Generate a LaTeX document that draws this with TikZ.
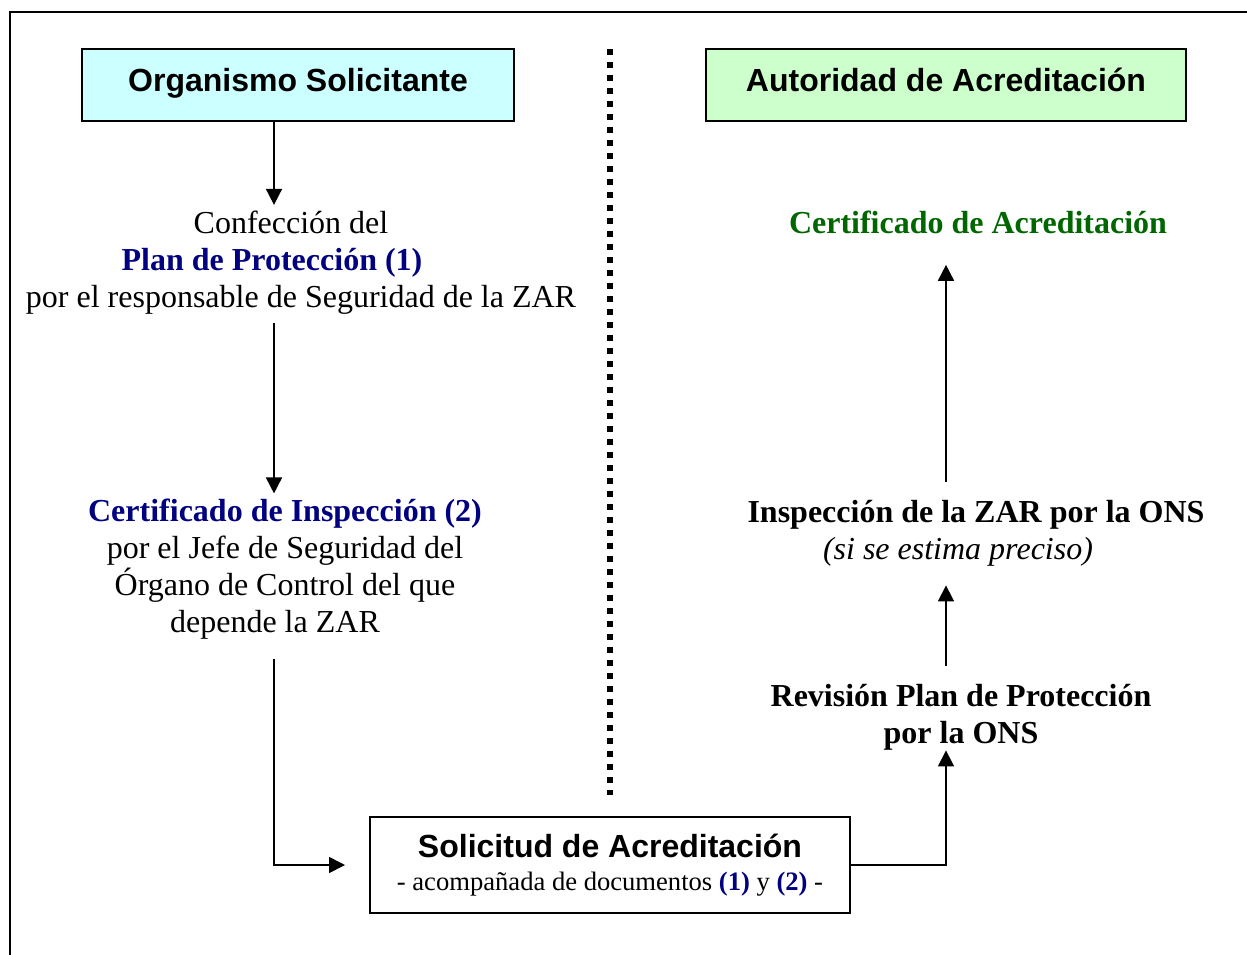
\documentclass[tikz,border=0pt]{standalone}
\usepackage{fontspec}
\setmainfont{Liberation Serif}
\newfontfamily\headfont{Liberation Sans}
\usepackage{tikz}
\usetikzlibrary{arrows.meta}
\definecolor{azulplan}{HTML}{000080}
\definecolor{verdecert}{HTML}{006600}
\definecolor{cianbox}{HTML}{CCFFFF}
\definecolor{verdebox}{HTML}{CCFFCC}

\begin{document}
\begin{tikzpicture}[x=0.5pt,y=-0.5pt]
    \tikzstyle{caja} = [rectangle, minimum width=216pt, minimum height=36pt, text centered, draw=black, line width=1pt, font=\headfont\fontsize{16}{18.5}\selectfont\bfseries]
\tikzstyle{head} = [caja, text height=12pt, text depth=6pt]
\tikzstyle{txt} = [align=center, inner sep=1pt, font=\fontsize{16}{18.5}\selectfont]
\tikzstyle{arrow} = [line width=0.85pt, -{Triangle[length=8pt,width=8pt]}]
    \useasboundingbox (0,0) rectangle (1247,954);
\draw[line width=1pt] (10,980) -- (10,12) -- (1270,12);

\node (org) [head, fill=cianbox] at (298,85) {Organismo Solicitante};
\node (aut) [head, fill=verdebox, minimum width=240pt] at (946,85) {Autoridad de Acreditación};
\node (plan) [txt] at (301,263) {Confección del\rule{10pt}{0pt}\\ \textcolor{azulplan}{\textbf{Plan de Protección (1)}}\rule{29pt}{0pt}\\ por el responsable de Seguridad de la ZAR};
\node (insp2) [txt] at (285,569) {\textcolor{azulplan}{\textbf{Certificado de Inspección (2)}}\\ por el Jefe de Seguridad del\\ Órgano de Control del que\\ depende la ZAR\rule{10pt}{0pt}};
\node (sol) [caja, minimum width=240pt, minimum height=48pt, align=center] at (610,865) {Solicitud de Acreditación\\[-2pt] {\normalfont\fontsize{13.3}{16}\selectfont - acompañada de documentos \textcolor{azulplan}{\textbf{(1)}} y \textcolor{azulplan}{\textbf{(2)}} -}};
\node (rev) [txt, font=\fontsize{16}{18.5}\selectfont\bfseries] at (961,717) {Revisión Plan de Protección\\ por la ONS};
\node (insp) [txt] at (976,533) {\textbf{Inspección de la ZAR por la ONS}\\ \textit{(si se estima preciso)}\rule{18pt}{0pt}};
\node (cert) [txt] at (978,222) {\textcolor{verdecert}{\textbf{Certificado de Acreditación}}};

\draw[line width=3pt, dash pattern=on 3pt off 3.5pt] (610,49) -- (610,795);

\draw[arrow, shorten >=2pt] ([xshift=-12pt]org.south) -- ([xshift=-12pt]org.south |- plan.north);
\draw[arrow, shorten <=3pt, shorten >=1.5pt] ([xshift=-13.5pt]plan.south) -- ([xshift=-13.5pt]plan.south |- insp2.north);
\draw[arrow, shorten <=8.5pt, shorten >=12pt] ([xshift=-5.5pt]insp2.south) |- (sol.west);

  \draw[arrow, shorten >=-1pt] (sol.east) -| (aut.south |- rev.south);
\draw[arrow, shorten <=8pt, shorten >=8.5pt] (aut.south |- rev.north) -- (aut.south |- insp.south);
\draw[arrow, shorten <=8pt, shorten >=14.5pt] (aut.south |- insp.north) -- (aut.south |- cert.south);
  \end{tikzpicture}
\end{document}
